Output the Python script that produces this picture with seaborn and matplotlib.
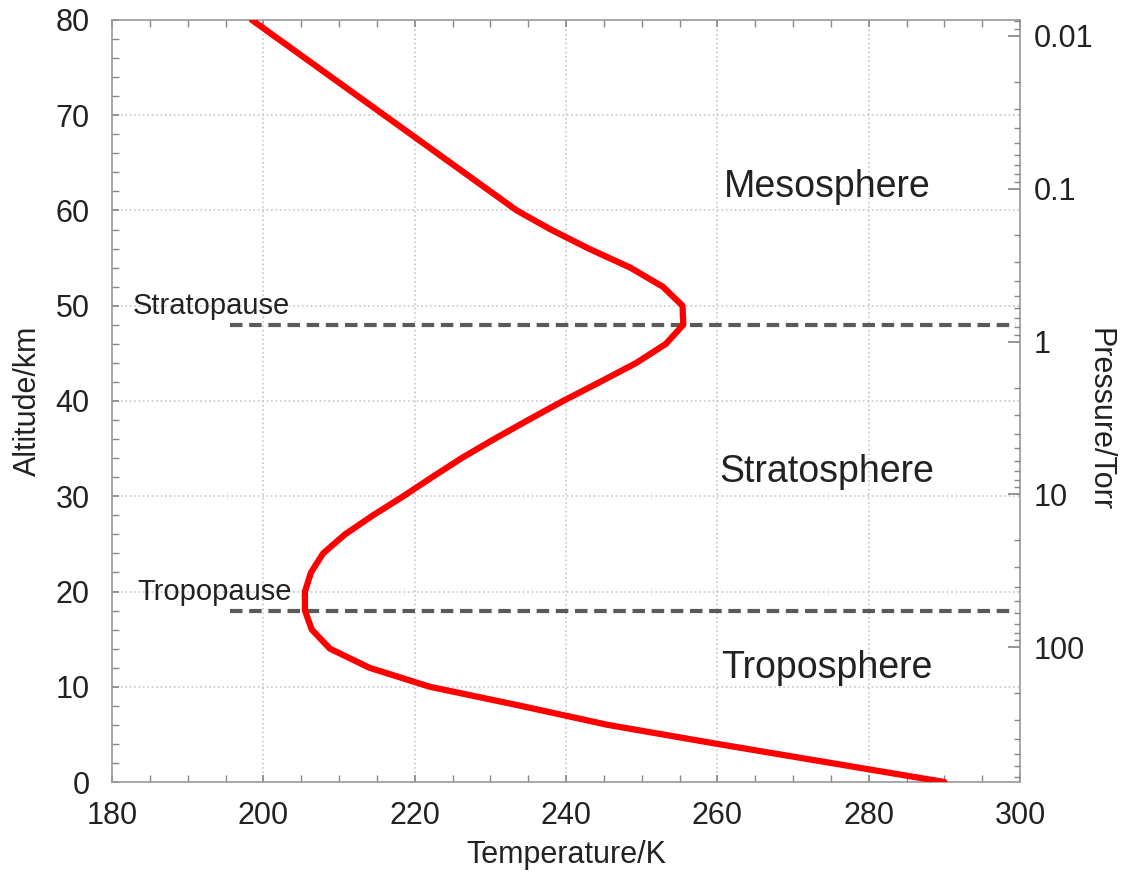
import numpy as np
import pandas as pd
import matplotlib
matplotlib.use("Agg")
import matplotlib.pyplot as plt
from matplotlib.ticker import MultipleLocator, FuncFormatter
import seaborn as sns

# Standard atmosphere temperature profile
altitude_km = [0, 2, 4, 6, 8, 10, 12, 14, 16, 18, 20, 22, 24, 26, 28, 30,
               32, 34, 36, 38, 40, 42, 44, 46, 48, 50, 52, 54, 56, 58, 60, 80]
temperature_k = [290, 275, 260, 245.5, 234, 222, 214, 208.8, 206.4, 205.5,
                 205.5, 206.3, 207.9, 210.8, 214.5, 218.5, 222.3, 226.2,
                 230.5, 235, 239.6, 244.5, 249.3, 253.2, 255.5, 255.4,
                 252.8, 248.5, 243, 238, 233.5, 198.5]

# Layer boundaries
pause_names = ["Tropopause", "Stratopause"]
pause_altitude = [18, 48]
pause_t_start = 195.6
pause_label_t = [183.4, 182.8]

layer_names = ["Troposphere", "Stratosphere", "Mesosphere"]
layer_altitude = [12, 32.5, 62.5]
layer_temperature = [274.5, 274.5, 274.5]

# Pressure axis: surface pressure and km per decade of pressure
surface_torr = 760.0
km_per_decade = 16.05
pressure_ticks = [0.01, 0.1, 1, 10, 100]

sns.set_theme(style="white")
plt.rcParams["font.family"] = ["Liberation Sans", "DejaVu Sans"]

TXT = "#222222"
fig = plt.figure(figsize=(11.24, 8.72), dpi=100)
ax = fig.add_axes([112 / 1124, 1 - 782 / 872, (1020 - 112) / 1124, (782 - 20) / 872])

df = pd.DataFrame({"T": temperature_k, "z": altitude_km})
sns.lineplot(data=df, x="T", y="z", sort=False, estimator=None,
             color="#ff0000", linewidth=4.5, ax=ax, zorder=5)

for name, z, tl in zip(pause_names, pause_altitude, pause_label_t):
    seg = pd.DataFrame({"T": [pause_t_start, 299.5], "z": [z, z]})
    sns.lineplot(data=seg, x="T", y="z", sort=False, estimator=None,
                 color="#5a5a5a", linewidth=3, ax=ax, zorder=4,
                 dashes=False, linestyle=(0, (3, 1.6)))
    ax.text(tl, z + 2.0, name, ha="left", va="center",
            fontsize=21, color=TXT, zorder=6)

for name, z, t in zip(layer_names, layer_altitude, layer_temperature):
    ax.text(t, z, name, ha="center", va="center", fontsize=27,
            color=TXT, zorder=6)

ax.set_xlim(180, 300)
ax.set_ylim(0, 80)
ax.xaxis.set_major_locator(MultipleLocator(20))
ax.xaxis.set_minor_locator(MultipleLocator(5))
ax.yaxis.set_major_locator(MultipleLocator(10))
ax.yaxis.set_minor_locator(MultipleLocator(2))
ax.grid(True, which="major", color="#c8c8c8", linestyle=":", linewidth=1.2)
ax.tick_params(which="both", direction="in", color="#888888",
               top=True, bottom=True, left=True, right=False,
               labelsize=22, labelcolor=TXT)
ax.tick_params(axis="y", which="both", length=5, pad=16)
ax.tick_params(axis="x", which="both", length=5, pad=14)
for s in ax.spines.values():
    s.set_color("#999999")
    s.set_linewidth(1.2)
ax.set_xlabel("Temperature/K", fontsize=22, color=TXT, va="center")
ax.set_ylabel("Altitude/km", fontsize=22, color=TXT, va="center")
ax.xaxis.set_label_coords(0.5, -0.096)
ax.yaxis.set_label_coords(-0.093, 0.5)

# Pressure on the right: log scale tied to altitude
ax2 = ax.twinx()
p_bottom = surface_torr
p_top = surface_torr * 10 ** (-80 / km_per_decade)
ax2.set_yscale("log")
ax2.set_ylim(p_bottom, p_top)
ax2.set_yticks(pressure_ticks)
ax2.yaxis.set_major_formatter(FuncFormatter(lambda v, _: f"{v:g}"))
ax2.tick_params(which="major", direction="in", length=9, color="#888888",
                labelsize=22, labelcolor=TXT, pad=10)
ax2.tick_params(which="minor", direction="in", length=4, color="#888888")
ax2.grid(False)
for s in ax2.spines.values():
    s.set_visible(False)
ax2.set_ylabel("Pressure/Torr", fontsize=22, color=TXT, rotation=270,
               va="center")
ax2.yaxis.set_label_coords(1.088, 0.475)

fig.savefig("out.png", dpi=100)
